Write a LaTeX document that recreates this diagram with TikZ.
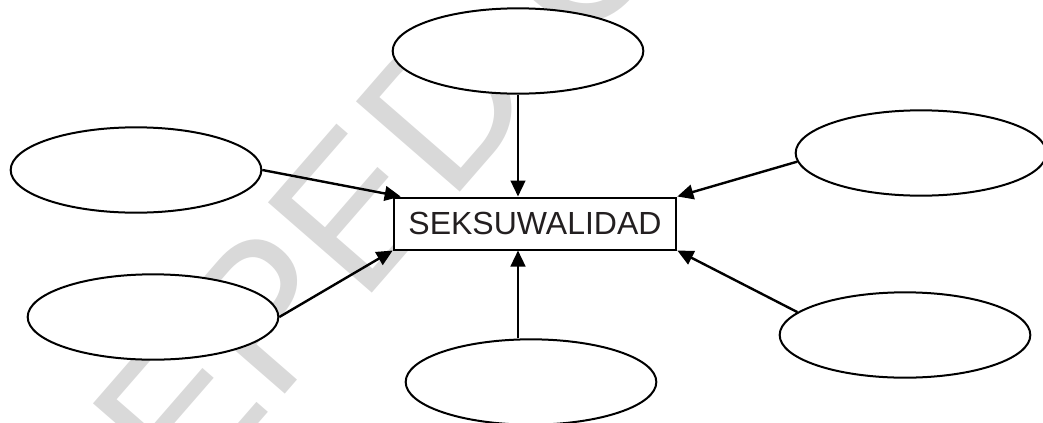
\documentclass[tikz,border=0pt]{standalone}
\usepackage{fontspec}
\setmainfont{Liberation Sans}
\usetikzlibrary{shapes.geometric,arrows.meta}
\definecolor{wmgray}{RGB}{217,217,217}
\definecolor{txtdark}{RGB}{35,31,32}
\begin{document}
\begin{tikzpicture}[x=0.75pt,y=0.75pt,yscale=-1,xscale=1,
    oval/.style={draw, ellipse, fill=white, line width=1.5pt, minimum width=188pt, minimum height=64pt, inner sep=0pt},
    mainbox/.style={draw, fill=white, line width=1.5pt, minimum width=212pt, minimum height=39pt, inner sep=0pt, text=txtdark, font=\fontsize{24}{28}\selectfont},
    arr/.style={line width=1.8pt, -{Triangle[length=12pt,width=11pt]}}]
        %uncomment if require: \path (0,422); %set diagram left start at 0, and has height of 422
        \useasboundingbox (0,0) rectangle (1043,422);
        
        %Watermark
        \node [text=wmgray, font=\fontsize{150}{150}\selectfont, rotate=49, anchor=base west, inner sep=0pt] (wm) at (92,616) {DEPED COPY};
        
        %Shape: Rectangle
        \node [mainbox] (box) at (535,223.5) {SEKSUWALIDAD};
        %Shape: Ellipse
        \node [oval] (top) at (518,51) {};
        %Shape: Ellipse
        \node [oval] (ul) at (136,170) {};
        %Shape: Ellipse
        \node [oval] (ur) at (921,153) {};
        %Shape: Ellipse
        \node [oval] (ll) at (153,317) {};
        %Shape: Ellipse
        \node [oval] (lr) at (905,335) {};
        %Shape: Ellipse
        \node [oval] (bot) at (531,382) {};
        
        %Straight Lines
        \draw [arr] (top.south) -- (top.south |- box.north);
        %Straight Lines
        \draw [arr] (top.south |- bot.north) -- (top.south |- box.south);
        %Straight Lines
        \draw [arr] (ul.east) -- ([xshift=6pt]box.north west);
        %Straight Lines
        \draw [arr] (ll.east) -- (box.south west);
        %Straight Lines
        \draw [arr] (ur.184) -- (box.north east);
        %Straight Lines
        \draw [arr] (lr.168) -- (box.south east);
        
        \end{tikzpicture}
\end{document}
